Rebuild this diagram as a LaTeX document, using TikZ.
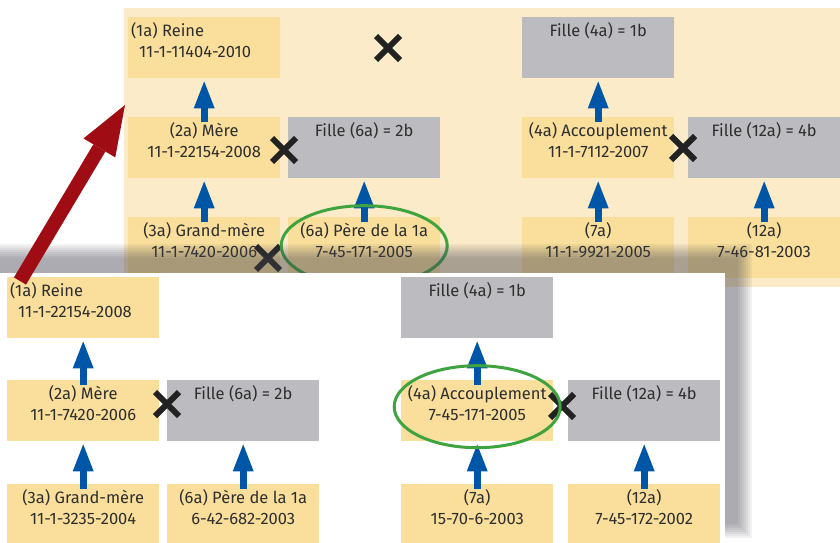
\documentclass[tikz,border=0pt]{standalone}
\usepackage{fontspec}
\setmainfont{Fira Sans}
\usepackage{tikz}
\usetikzlibrary{
  arrows.meta,
  shapes.misc,
  calc
}
\definecolor{isPanel}{HTML}{FCEBC8}
\definecolor{isCell}{HTML}{F9DF9B}
\definecolor{isGray}{HTML}{BCBCC0}
\definecolor{isText}{HTML}{2E2E2E}
\definecolor{isArrow}{HTML}{0056A6}
\definecolor{isRing}{HTML}{3FA33F}
\definecolor{isCross}{HTML}{222222}
\definecolor{isRed}{HTML}{A00C14}
\definecolor{isShadow}{HTML}{4A4A55}

\newcommand{\celltext}[3][\centering]{%
  \parbox[c][61pt][t]{152pt}{#1\rule{0pt}{19pt}#2\\#3}}

\begin{document}
\begin{tikzpicture}[x=1pt, y=-1pt,
  cell/.style={anchor=north west, inner sep=0pt, text=isText,
    font=\fontsize{16.5}{21}\selectfont},
  lift/.style={draw=isArrow, line width=7pt,
    -{Triangle[length=27pt, width=21pt, line width=0pt]}},
  nomatch/.style={cross out, draw=isCross, line width=6pt,
    minimum size=18pt, inner sep=0pt},
  ring/.style={draw=isRing, line width=3pt}]
  \fill[white] (0,0) rectangle (840,543);
  \useasboundingbox (0,0) rectangle (840,543);

  % upper screenshot
  \fill[isPanel] (124,8) rectangle (840,287);
  \node[cell, fill=isCell] (u1a) at (128,17)
    {\celltext[\raggedright\hspace*{3pt}]{(1a) Reine}{\hspace*{11pt}11-1-11404-2010}};
  \foreach \nm/\px/\py/\fc/\ta/\tb in {
    u2a/128/117/isCell/{(2a) Mère}/{11-1-22154-2008},
    uf6/288/117/isGray/{Fille (6a) = 2b}/{},
    u3a/128/217/isCell/{(3a) Grand-mère}/{11-1-7420-2006},
    u6a/288/217/isCell/{(6a) Père de la 1a}/{7-45-171-2005},
    uf4/522/17/isGray/{Fille (4a) = 1b}/{},
    u4a/522/117/isCell/{(4a) Accouplement}/{11-1-7112-2007},
    uf12/688/117/isGray/{Fille (12a) = 4b}/{},
    u7a/522/217/isCell/{(7a)}/{11-1-9921-2005},
    u12a/688/217/isCell/{(12a)}/{7-46-81-2003}}{
    \node[cell, fill=\fc] (\nm) at (\px,\py) {\celltext{\ta}{\tb}};
  }
  \foreach \a/\b in {u2a/u1a, u3a/u2a, u6a/uf6, u4a/uf4, u7a/u4a, u12a/uf12}
    \draw[lift] ([yshift=-5pt]\a.north) -- ([yshift=-3pt]\b.south);
  \foreach \i/\cx/\cy in {1/388/48, 2/284/150, 3/268/258, 4/683/148}
    \node[nomatch] (ux\i) at (\cx,\cy) {};
  \draw[ring] ([yshift=2pt]u6a.center) ellipse [x radius=83pt, y radius=40pt];

  % shadow and lower screenshot
  \foreach \d in {0,2,...,14}
    \fill[isShadow, opacity=0.07] (-30-\d,258-\d) rectangle (738+\d,524+\d);
  \fill[white] (0,273) rectangle (725,543);
  \node[cell, fill=isCell] (l1a) at (7,277)
    {\celltext[\raggedright\hspace*{3pt}]{(1a) Reine}{\hspace*{11pt}11-1-22154-2008}};
  \foreach \nm/\px/\py/\fc/\ta/\tb in {
    l2a/7/380/isCell/{(2a) Mère}/{11-1-7420-2006},
    lf6/167/380/isGray/{Fille (6a) = 2b}/{},
    l3a/7/484/isCell/{(3a) Grand-mère}/{11-1-3235-2004},
    l6a/167/484/isCell/{(6a) Père de la 1a}/{6-42-682-2003},
    lf4/401/277/isGray/{Fille (4a) = 1b}/{},
    l4a/401/380/isCell/{(4a) Accouplement}/{7-45-171-2005},
    lf12/568/380/isGray/{Fille (12a) = 4b}/{},
    l7a/401/484/isCell/{(7a)}/{15-70-6-2003},
    l12a/568/484/isCell/{(12a)}/{7-45-172-2002}}{
    \node[cell, fill=\fc] (\nm) at (\px,\py) {\celltext{\ta}{\tb}};
  }
  \foreach \a/\b in {l2a/l1a, l3a/l2a, l6a/lf6, l4a/lf4, l7a/l4a, l12a/lf12}
    \draw[lift] ([yshift=-5pt]\a.north) -- ([yshift=-3pt]\b.south);
  \foreach \i/\cx/\cy in {1/167/404, 2/562/406}
    \node[nomatch] (lx\i) at (\cx,\cy) {};
  \draw[ring] ([yshift=4pt]l4a.center) ellipse [x radius=83pt, y radius=41pt];

  % link between the two
  \coordinate (tail) at (20,281);
  \coordinate (head) at (125,105);
  \draw[isRed, line width=14pt,
    -{Triangle[length=50pt, width=37pt, line width=0pt]}] (tail) -- (head);
\end{tikzpicture}
\end{document}
